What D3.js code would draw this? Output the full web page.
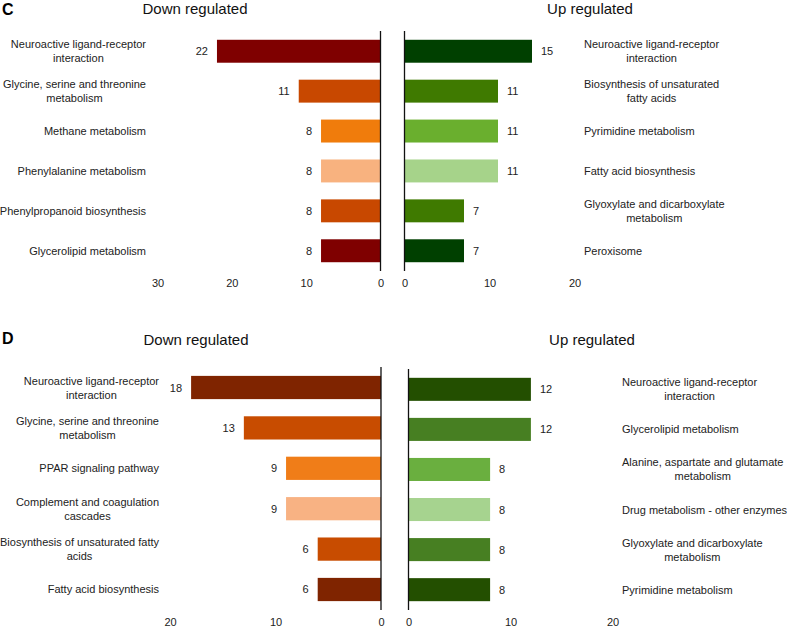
<!DOCTYPE html>
<html>
<head>
<meta charset="utf-8">
<script src="https://cdn.jsdelivr.net/npm/d3@7.9.0/dist/d3.min.js"></script>
<style>
  body { margin: 0; background: #fff; }
  svg { font-family: "Liberation Sans", Arial, sans-serif; }
</style>
</head>
<body>
<div id="chart"></div>
<script>
// Panel C
const cDownCats = ["Neuroactive ligand-receptor\ninteraction", "Glycine, serine and threonine\nmetabolism",
  "Methane metabolism", "Phenylalanine metabolism", "Phenylpropanoid biosynthesis", "Glycerolipid metabolism"];
const cDownVals = [22, 11, 8, 8, 8, 8];
const cDownColors = ["#7f0000", "#c84800", "#f07c0c", "#f8b27f", "#c84800", "#7f0000"];
const cUpCats = ["Neuroactive ligand-receptor\ninteraction", "Biosynthesis of unsaturated\nfatty acids",
  "Pyrimidine metabolism", "Fatty acid biosynthesis", "Glyoxylate and dicarboxylate\nmetabolism", "Peroxisome"];
const cUpVals = [15, 11, 11, 11, 7, 7];
const cUpColors = ["#004000", "#3f7a00", "#6aaf2e", "#a6d38a", "#3f7a00", "#004000"];
const cDownTicks = [30, 20, 10, 0];
const cUpTicks = [0, 10, 20];

// Panel D
const dDownCats = ["Neuroactive ligand-receptor\ninteraction", "Glycine, serine and threonine\nmetabolism",
  "PPAR signaling pathway", "Complement and coagulation\ncascades", "Biosynthesis of unsaturated fatty\nacids",
  "Fatty acid biosynthesis"];
const dDownVals = [18, 13, 9, 9, 6, 6];
const dDownColors = ["#7f2400", "#c84c00", "#f07d18", "#f8b283", "#c84c00", "#7f2400"];
const dUpCats = ["Neuroactive ligand-receptor\ninteraction", "Glycerolipid metabolism",
  "Alanine, aspartate and glutamate\nmetabolism", "Drug metabolism - other enzymes",
  "Glyoxylate and dicarboxylate\nmetabolism", "Pyrimidine metabolism"];
const dUpVals = [12, 12, 8, 8, 8, 8];
const dUpColors = ["#234f00", "#477f22", "#6aaf3f", "#a6d38f", "#477f22", "#234f00"];
const dDownTicks = [20, 10, 0];
const dUpTicks = [0, 10, 20];

const svg = d3.select("#chart").append("svg")
  .attr("width", 787)
  .attr("height", 628);

// draws a multi-line label; lines centred on each other, block aligned to edge
function blockLabel(g, text, edge, cy, align) {
  const lines = text.split("\n");
  const t = g.append("text")
    .attr("font-size", 11)
    .attr("fill", "#222")
    .attr("text-anchor", "middle");
  lines.forEach((ln, i) => {
    t.append("tspan")
      .attr("x", 0)
      .attr("y", cy + (i - (lines.length - 1) / 2) * 14 + 4)
      .text(ln);
  });
  let w = 0;
  t.selectAll("tspan").each(function() { w = Math.max(w, this.getComputedTextLength()); });
  const cx = align === "right" ? edge - w / 2 : edge + w / 2;
  t.selectAll("tspan").attr("x", cx);
}

function drawSide(cfg) {
  const g = svg.append("g");
  const y = d3.scaleBand()
    .domain(cfg.cats)
    .range([cfg.top, cfg.bottom])
    .paddingInner(0.425)
    .paddingOuter(0.22);
  const left = cfg.side === "down";
  const x = d3.scaleLinear()
    .domain([0, cfg.max])
    .range([cfg.zero, left ? cfg.zero - cfg.len : cfg.zero + cfg.len]);

  g.selectAll("rect")
    .data(cfg.vals)
    .join("rect")
    .attr("x", d => left ? x(d) : x(0))
    .attr("y", (d, i) => y(cfg.cats[i]))
    .attr("width", d => Math.abs(x(d) - x(0)))
    .attr("height", y.bandwidth())
    .attr("fill", (d, i) => cfg.colors[i]);

  g.selectAll(".val")
    .data(cfg.vals)
    .join("text")
    .attr("class", "val")
    .attr("x", d => left ? x(d) - 9 : x(d) + 9)
    .attr("y", (d, i) => y(cfg.cats[i]) + y.bandwidth() / 2 + 4)
    .attr("text-anchor", left ? "end" : "start")
    .attr("font-size", 11)
    .attr("fill", "#222")
    .text(d => d);

  // zero line
  g.append("line")
    .attr("x1", x(0)).attr("x2", x(0))
    .attr("y1", cfg.top).attr("y2", cfg.bottom)
    .attr("stroke", "#111")
    .attr("stroke-width", 1.3);

  const axis = g.append("g")
    .attr("transform", `translate(0, ${cfg.tickY})`)
    .call(d3.axisBottom(x).tickValues(cfg.ticks).tickSize(0).tickPadding(0));
  axis.select(".domain").remove();
  axis.selectAll("text")
    .attr("font-size", 11)
    .attr("font-family", "Liberation Sans, Arial, sans-serif")
    .attr("fill", "#222")
    .attr("dy", 0);

  cfg.cats.forEach((c, i) => {
    blockLabel(g, c, cfg.labelEdge, y(c) + y.bandwidth() / 2, left ? "right" : "left");
  });

  g.append("text")
    .attr("x", cfg.titleX)
    .attr("y", cfg.titleY)
    .attr("text-anchor", "middle")
    .attr("font-size", 15)
    .attr("fill", "#111")
    .text(cfg.title);
}

// panel letters
svg.append("text").attr("x", 2).attr("y", 15)
  .attr("font-size", 16).attr("font-weight", "bold").text("C");
svg.append("text").attr("x", 2).attr("y", 344)
  .attr("font-size", 16).attr("font-weight", "bold").text("D");

drawSide({side: "down", cats: cDownCats, vals: cDownVals, colors: cDownColors, ticks: cDownTicks,
  max: 30, zero: 380.5, len: 223, top: 31, bottom: 271, tickY: 287, labelEdge: 146,
  title: "Down regulated", titleX: 195, titleY: 14});
drawSide({side: "up", cats: cUpCats, vals: cUpVals, colors: cUpColors, ticks: cUpTicks,
  max: 20, zero: 404.5, len: 170, top: 31, bottom: 271, tickY: 287, labelEdge: 584,
  title: "Up regulated", titleX: 590, titleY: 14});
drawSide({side: "down", cats: dDownCats, vals: dDownVals, colors: dDownColors, ticks: dDownTicks,
  max: 20, zero: 381, len: 211, top: 367, bottom: 610, tickY: 626, labelEdge: 159,
  title: "Down regulated", titleX: 196, titleY: 345});
drawSide({side: "up", cats: dUpCats, vals: dUpVals, colors: dUpColors, ticks: dUpTicks,
  max: 20, zero: 408.5, len: 204, top: 369, bottom: 610, tickY: 626, labelEdge: 622,
  title: "Up regulated", titleX: 592, titleY: 345});
</script>
</body>
</html>
